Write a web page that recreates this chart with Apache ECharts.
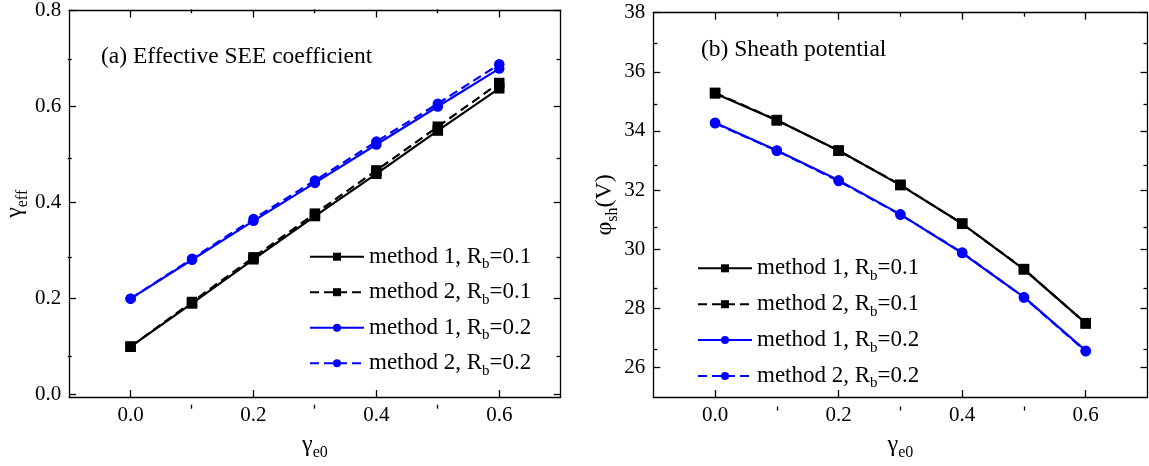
<!DOCTYPE html>
<html><head><meta charset="utf-8">
<script src="https://cdn.jsdelivr.net/npm/echarts@6/dist/echarts.min.js"></script>
<style>html,body{margin:0;padding:0;background:#fff}#c{width:1149px;height:466px}</style>
</head><body><div id="c"></div>
<script>
// ---------------- data ----------------
const gammaE0 = [0, 0.1, 0.2, 0.3, 0.4, 0.5, 0.6];
const seriesNames = ['method 1, Rb=0.1', 'method 2, Rb=0.1', 'method 1, Rb=0.2', 'method 2, Rb=0.2'];
const gammaEff_m1_Rb01 = [0.100, 0.190, 0.282, 0.372, 0.460, 0.550, 0.638];
const gammaEff_m2_Rb01 = [0.100, 0.193, 0.286, 0.377, 0.467, 0.558, 0.649];
const gammaEff_m1_Rb02 = [0.200, 0.281, 0.362, 0.441, 0.521, 0.600, 0.679];
const gammaEff_m2_Rb02 = [0.200, 0.283, 0.366, 0.446, 0.527, 0.606, 0.688];
const phiSh_m1_Rb01 = [35.27, 34.36, 33.34, 32.17, 30.87, 29.32, 27.50];
const phiSh_m2_Rb01 = [35.29, 34.37, 33.33, 32.18, 30.86, 29.33, 27.49];
const phiSh_m1_Rb02 = [34.28, 33.34, 32.33, 31.18, 29.87, 28.38, 26.57];
const phiSh_m2_Rb02 = [34.26, 33.33, 32.31, 31.17, 29.89, 28.37, 26.55];
const xTickLabels = [0, 0.2, 0.4, 0.6];
const xMinorTicks = [0.1, 0.3, 0.5];
const effTickLabels = [0, 0.2, 0.4, 0.6, 0.8];
const effMinorTicks = [0.1, 0.3, 0.5, 0.7];
const phiTickLabels = [26, 28, 30, 32, 34, 36, 38];
const phiMinorTicks = [27, 29, 31, 33, 35, 37];
const titles = ['(a) Effective SEE coefficient', '(b) Sheath potential'];

// ---------------- styling ----------------
const FONT = 'Liberation Serif';
const BLACK = '#000000';
const BLUE = '#0000ff';
const axisLineStyle = { color: BLACK, width: 1.3 };
const subRich = { sub: { fontFamily: FONT, fontSize: 15, padding: [15, 0, 0, 0], color: BLACK } };
const nameSubRich = { sub: { fontFamily: FONT, fontSize: 16, padding: [16, 0, 0, 0], color: BLACK } };
const nameStyle = { fontFamily: FONT, fontSize: 24, color: BLACK, lineHeight: 28, rich: nameSubRich };

function xAxes(grid, minorGrid) {
  const base = { type: 'value', min: -0.1, max: 0.7, splitLine: { show: false } };
  return [
    Object.assign({}, base, { gridIndex: grid, position: 'bottom',
      axisLine: { show: true, onZero: false, lineStyle: axisLineStyle },
      axisTick: { show: true, inside: true, length: 7, customValues: xTickLabels, lineStyle: axisLineStyle },
      axisLabel: { show: true, customValues: xTickLabels, formatter: v => v.toFixed(1), fontFamily: FONT, fontSize: 21, color: BLACK, margin: 8 },
      name: 'γ{sub|e0}', nameLocation: 'middle', nameGap: 28, nameTextStyle: nameStyle }),
    Object.assign({}, base, { gridIndex: grid, position: 'top',
      axisLine: { show: true, onZero: false, lineStyle: axisLineStyle },
      axisTick: { show: true, inside: true, length: 7, customValues: xTickLabels, lineStyle: axisLineStyle },
      axisLabel: { show: false } }),
    Object.assign({}, base, { gridIndex: minorGrid, position: 'bottom',
      axisLine: { show: false, onZero: false },
      axisTick: { show: true, inside: true, length: 4, customValues: xMinorTicks, lineStyle: axisLineStyle },
      axisLabel: { show: false } }),
    Object.assign({}, base, { gridIndex: minorGrid, position: 'top',
      axisLine: { show: false, onZero: false },
      axisTick: { show: true, inside: true, length: 4, customValues: xMinorTicks, lineStyle: axisLineStyle },
      axisLabel: { show: false } })
  ];
}

function yAxes(grid, minorGrid, min, max, labels, minors, fmt, name, nameGap) {
  const base = { type: 'value', min: min, max: max, splitLine: { show: false } };
  return [
    Object.assign({}, base, { gridIndex: grid, position: 'left',
      axisLine: { show: true, onZero: false, lineStyle: axisLineStyle },
      axisTick: { show: true, inside: true, length: 7, customValues: labels, lineStyle: axisLineStyle },
      axisLabel: { show: true, customValues: labels, formatter: fmt, fontFamily: FONT, fontSize: 21, color: BLACK, margin: 8 },
      name: name, nameLocation: 'middle', nameGap: nameGap, nameTextStyle: nameStyle }),
    Object.assign({}, base, { gridIndex: grid, position: 'right',
      axisLine: { show: true, onZero: false, lineStyle: axisLineStyle },
      axisTick: { show: true, inside: true, length: 7, customValues: labels, lineStyle: axisLineStyle },
      axisLabel: { show: false } }),
    Object.assign({}, base, { gridIndex: minorGrid, position: 'left',
      axisLine: { show: false, onZero: false },
      axisTick: { show: true, inside: true, length: 4, customValues: minors, lineStyle: axisLineStyle },
      axisLabel: { show: false } }),
    Object.assign({}, base, { gridIndex: minorGrid, position: 'right',
      axisLine: { show: false, onZero: false },
      axisTick: { show: true, inside: true, length: 4, customValues: minors, lineStyle: axisLineStyle },
      axisLabel: { show: false } })
  ];
}

const seriesStyles = [
  { color: BLACK, symbol: 'rect', dash: 'solid' },
  { color: BLACK, symbol: 'rect', dash: [9, 5] },
  { color: BLUE, symbol: 'circle', dash: 'solid' },
  { color: BLUE, symbol: 'circle', dash: [9, 5] }
];

function makeSeries(values, idx, axisIdx) {
  const st = seriesStyles[idx];
  return {
    type: 'line', name: seriesNames[idx], xAxisIndex: axisIdx, yAxisIndex: axisIdx,
    data: gammaE0.map((x, i) => [x, values[i]]),
    symbol: st.symbol, symbolSize: 10.5, showSymbol: true,
    itemStyle: { color: st.color },
    lineStyle: { color: st.color, width: 2.2, type: st.dash },
    silent: true
  };
}

const legendBase = {
  orient: 'vertical', itemWidth: 54, itemHeight: 10, padding: 0, selectedMode: false,
  data: seriesNames,
  formatter: n => n.replace('Rb', 'R{sub|b}'),
  textStyle: { fontFamily: FONT, fontSize: 23, color: BLACK, lineHeight: 26, rich: subRich }
};

const titleStyle = { fontFamily: FONT, fontSize: 23.5, fontWeight: 'normal', color: BLACK };

const option = {
  animation: false,
  backgroundColor: '#ffffff',
  title: [
    { text: titles[0], left: 101, top: 45, padding: 0, textStyle: titleStyle },
    { text: titles[1], left: 701, top: 38, padding: 0, textStyle: titleStyle }
  ],
  grid: [
    { left: 67.7, right: 588.3, top: 9.3, bottom: 57.3 },
    { left: 67.7, right: 588.3, top: 9.3, bottom: 57.3 },
    { left: 653.3, right: 1.5, top: 12.7, bottom: 55.5 },
    { left: 653.3, right: 1.5, top: 12.7, bottom: 55.5 }
  ],
  xAxis: [].concat(xAxes(0, 1), xAxes(2, 3)),
  yAxis: [].concat(
    yAxes(0, 1, -0.005, 0.8, effTickLabels, effMinorTicks, v => v.toFixed(1), 'γ{sub|eff}', 36),
    yAxes(2, 3, 25, 38, phiTickLabels, phiMinorTicks, v => String(v), 'φ{sub|sh}(V)', 31)
  ),
  legend: [
    Object.assign({}, legendBase, { left: 309, top: 243.7, itemGap: 7.5 }),
    Object.assign({}, legendBase, { left: 697, top: 255.3, itemGap: 7.9 })
  ],
  series: [
    makeSeries(gammaEff_m1_Rb01, 0, 0),
    makeSeries(gammaEff_m2_Rb01, 1, 0),
    makeSeries(gammaEff_m1_Rb02, 2, 0),
    makeSeries(gammaEff_m2_Rb02, 3, 0),
    makeSeries(phiSh_m1_Rb01, 0, 4),
    makeSeries(phiSh_m2_Rb01, 1, 4),
    makeSeries(phiSh_m1_Rb02, 2, 4),
    makeSeries(phiSh_m2_Rb02, 3, 4)
  ]
};

const chart = echarts.init(document.getElementById('c'), null, { renderer: 'canvas' });
chart.setOption(option);
</script>
</body></html>
